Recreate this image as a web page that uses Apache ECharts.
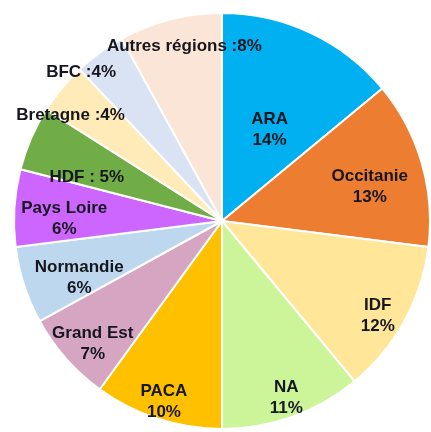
<!DOCTYPE html>
<html>
<head>
<meta charset="utf-8">
<script src="https://cdn.jsdelivr.net/npm/echarts@6/dist/echarts.min.js"></script>
<style>
	html, body { margin: 0; padding: 0; background: #fff; }
	#chart { width: 431px; height: 432px; }
</style>
</head>
<body>
<div id="chart"></div>
<script>
// données
var regions = ['ARA', 'Occitanie', 'IDF', 'NA', 'PACA', 'Grand Est', 'Normandie', 'Pays Loire', 'HDF', 'Bretagne', 'BFC', 'Autres régions']
var parts = [14, 13, 12, 11, 10, 7, 6, 6, 5, 4, 4, 8]
var seps = ['\n', '\n', '\n', '\n', '\n', '\n', '\n', '\n', ' : ', ' :', ' :', ' :']
var colors = ['#00B0F0', '#ED7D31', '#FFE699', '#CCF59A', '#FFC000', '#D6A5C2', '#BDD7EE', '#CC66FF', '#70AD47', '#FFEBB8', '#DAE3F3', '#FBE5D6']
// décalage des étiquettes
var labelShift = [[2, 6], [45, -4], [62, 43], [28, 76], [-25, 79], [-49, 52], [-41, 24], [-51, 5], [-37, -1], [-69, -37], [-78, -62], [-11, -71]]

var myChart = echarts.init(document.getElementById('chart'))
myChart.setOption({
	animation: false,
	series: [
		{
			type: 'pie',
			center: [222, 221],
			radius: [0, 208],
			startAngle: 90,
			clockwise: true,
			label: {
				position: 'inside',
				color: '#16161e',
				fontFamily: 'Liberation Sans',
				fontWeight: 'bold',
				fontSize: 17,
				lineHeight: 21,
				formatter: function (p) {
					return p.name + seps[p.dataIndex] + p.value + '%'
				}
			},
			labelLayout: function (p) {
				var s = labelShift[p.dataIndex]
				return { dx: s[0], dy: s[1] }
			},
			itemStyle: {
				borderColor: '#fff',
				borderWidth: 2
			},
			data: regions.map(function (n, i) {
				return { name: n, value: parts[i], itemStyle: { color: colors[i] } }
			})
		}
	]
})
</script>
</body>
</html>
